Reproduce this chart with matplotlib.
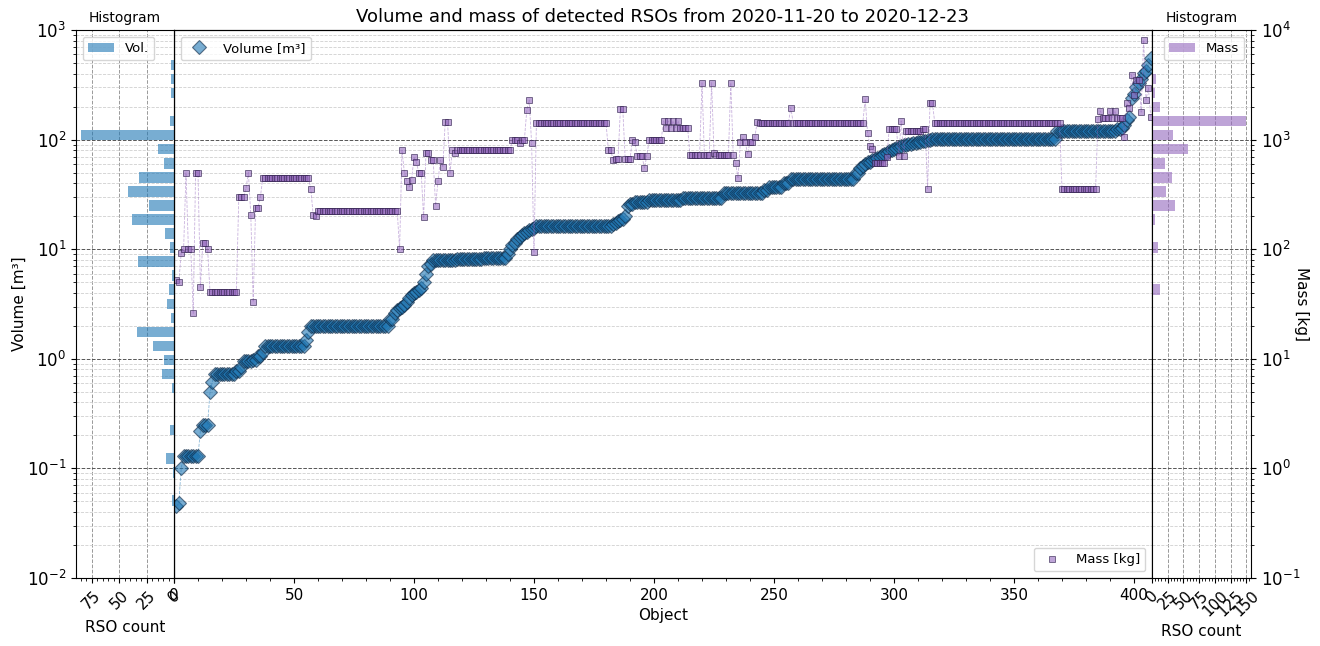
import numpy as np
import matplotlib.pyplot as plt
from matplotlib.ticker import MultipleLocator, AutoMinorLocator

# Volume of each object [m^3], sorted ascending: level / how many objects share it
vol_level = [0.045, 0.048, 0.10, 0.13, 0.22, 0.25, 0.50, 0.62, 0.72, 0.78, 0.85, 0.95, 0.98,
             1.05, 1.15, 1.3, 1.5, 1.75, 2.0, 2.3, 2.6, 2.8, 2.9, 3.0, 3.1, 3.3, 3.6, 3.8,
             4.0, 4.1, 4.2, 4.4, 5.0, 6.0, 7.0, 7.4, 7.9, 8.1, 8.3, 9.0, 10, 11, 11.5,
             12.5, 13, 13.5, 14, 14.5, 15, 15.3, 15.5, 16.2, 17, 17.5, 18, 18.5, 19, 20,
             25, 26, 27, 28, 29.5, 32.5, 35, 37, 40, 43.7, 50, 55, 58, 60, 62, 63, 65, 66,
             68, 70, 72, 74, 76, 78, 80, 82, 84, 86, 88, 89, 90, 91, 92, 93, 94, 96, 98, 99,
             101, 120, 125, 128, 135, 150, 160, 240, 260, 300, 330, 360, 405, 420, 480, 550]
vol_count = [1, 1, 1, 7, 1, 3, 1, 1, 9, 2, 1, 4, 2,
             2, 1, 17, 1, 1, 33, 2, 1, 1, 1, 1, 1, 1, 1, 1,
             1, 1, 1, 1, 1, 1, 1, 1, 10, 11, 10, 1, 1, 1, 1,
             1, 1, 1, 1, 1, 1, 1, 1, 32, 1, 1, 1, 1, 1, 1,
             1, 2, 6, 14, 17, 17, 2, 6, 3, 27, 2, 1, 1, 1, 1, 1, 1, 1,
             1, 1, 1, 1, 1, 1, 1, 1, 1, 1, 1, 1, 1, 1, 1, 1, 1, 2, 2, 2,
             52, 25, 2, 1, 1, 1, 1, 1, 1, 1, 1, 1, 1, 1, 1, 1]

# Mass of the same objects [kg], in the same order
mass_level = [52, 50, 92, 100, 500, 100, 26, 500, 45, 115, 100,
              41,
              300, 360, 500, 205, 33, 240, 300,
              450,
              355, 205, 200,
              225,
              100, 800, 500, 420, 370, 430, 690, 620, 500, 195, 750, 650, 250, 420, 650, 560,
              1450, 500, 800, 750,
              800,
              1000, 930, 1000, 1860, 2300, 930, 94,
              1420,
              800, 650, 660, 1900, 660, 1000, 950, 710, 550, 710, 1000,
              1480, 1280, 1480, 1280, 1480, 1280, 1480, 1280,
              720, 3300, 720, 3300, 760, 720, 3300, 720,
              610, 450, 950, 1050, 950, 740, 950, 1050, 1450,
              1420, 1950, 1420,
              2350, 1150, 870, 820, 610, 690, 1250, 710, 1480, 710, 1200, 1250, 355, 2150,
              1420,
              355,
              1540, 1830, 1580, 1830, 1580, 1830, 1580,
              1580, 1050, 2150, 1960, 3900, 2550, 3500, 1780, 8100, 2300, 2950, 1600]
mass_count = [1, 1, 1, 1, 1, 2, 1, 2, 1, 2, 1,
              12,
              3, 1, 1, 1, 1, 2, 1,
              20,
              1, 1, 1,
              34,
              1, 1, 1, 1, 1, 1, 1, 1, 2, 1, 2, 2, 1, 1, 1, 1,
              2, 1, 1, 1,
              23,
              3, 1, 2, 1, 1, 1, 1,
              30,
              2, 1, 2, 2, 3, 1, 1, 3, 1, 1, 6,
              1, 1, 1, 1, 1, 1, 1, 4,
              5, 1, 3, 1, 1, 6, 1, 1,
              1, 1, 1, 1, 1, 1, 2, 1, 1,
              13, 1, 30,
              1, 1, 1, 1, 5, 1, 4, 1, 1, 1, 7, 2, 1, 2,
              53,
              15,
              1, 1, 3, 1, 1, 1, 2,
              1, 1, 1, 1, 1, 1, 2, 1, 1, 1, 1, 1]

volume = np.repeat(vol_level, vol_count)
mass = np.repeat(mass_level, mass_count)
obj = np.arange(1, len(volume) + 1)

vol_bins = np.logspace(-2, 3, 40)
mass_bins = np.logspace(-1, 4, 40)

vcol = '#1f77b4'
mcol = '#9467bd'


def style_grid(a, vertical=False):
    a.grid(True, which='major', axis='y', linestyle='--', color='#555555', linewidth=0.7)
    a.grid(True, which='minor', axis='y', linestyle='--', color='#d0d0d0', linewidth=0.6)
    if vertical:
        a.grid(True, which='major', axis='x', linestyle='--', color='#999999', linewidth=0.7)
    a.set_axisbelow(True)


fig = plt.figure(figsize=(13.2, 6.46), dpi=100)
W, H = 1320.0, 646.0
bottom = 1 - 578 / H
height = (578 - 30) / H

ax = fig.add_axes([174 / W, bottom, (1152 - 174) / W, height])
ax_lh = fig.add_axes([76 / W, bottom, (174 - 76) / W, height], sharey=ax)
ax_m = ax.twinx()
ax_rh = fig.add_axes([1152 / W, bottom, (1251 - 1152) / W, height], sharey=ax_m)

# main panel: volume on the left scale, mass on the twin scale
ax.set_yscale('log')
ax.set_ylim(1e-2, 1e3)
ax.plot(obj, volume, '--', color=vcol, lw=0.6, alpha=0.5)
ax.plot(obj, volume, 'D', ms=7, mfc=vcol, mec='#0b2540', mew=0.8, alpha=0.6,
        linestyle='none', label='Volume [m³]')
ax.set_xlim(0, len(obj) + 0.5)
ax.xaxis.set_major_locator(MultipleLocator(50))
ax.xaxis.set_minor_locator(AutoMinorLocator(5))
ax.tick_params(axis='y', which='both', left=False, labelleft=False)
ax.tick_params(axis='x', labelsize=11)
ax.set_xlabel('Object', fontsize=11)
ax.set_title('Volume and mass of detected RSOs from 2020-11-20 to 2020-12-23', fontsize=13)
style_grid(ax)
ax.legend(loc='upper left', fontsize=9.5)

ax_m.set_yscale('log')
ax_m.set_ylim(1e-1, 1e4)
ax_m.plot(obj, mass, '--', color=mcol, lw=0.6, alpha=0.5)
ax_m.plot(obj, mass, 's', ms=4.5, mfc=mcol, mec='#2d1e4a', mew=0.7, alpha=0.6,
          linestyle='none', label='Mass [kg]')
ax_m.tick_params(axis='y', which='both', right=False, labelright=False)
ax_m.legend(loc='lower right', fontsize=9.5)

# left histogram: volume
ax_lh.hist(volume, bins=vol_bins, orientation='horizontal', color=vcol, alpha=0.6,
           rwidth=0.75, label='Vol.')
ax_lh.invert_xaxis()
ax_lh.xaxis.set_major_locator(MultipleLocator(25))
ax_lh.xaxis.set_minor_locator(AutoMinorLocator(5))
ax_lh.tick_params(axis='x', labelsize=11, labelrotation=45)
ax_lh.tick_params(axis='y', labelsize=12)
ax_lh.set_xlabel('RSO count', fontsize=11, labelpad=6)
ax_lh.set_ylabel('Volume [m³]', fontsize=11)
ax_lh.yaxis.set_label_coords(-0.50, 0.5)
ax_lh.set_title('Histogram', fontsize=10)
style_grid(ax_lh, vertical=True)
ax_lh.legend(loc='upper left', fontsize=9.5)

# right histogram: mass
ax_rh.hist(mass, bins=mass_bins, orientation='horizontal', color=mcol, alpha=0.6,
           rwidth=0.75, label='Mass')
ax_rh.xaxis.set_major_locator(MultipleLocator(25))
ax_rh.xaxis.set_minor_locator(AutoMinorLocator(5))
ax_rh.yaxis.tick_right()
ax_rh.yaxis.set_label_position('right')
ax_rh.tick_params(axis='x', labelsize=11, labelrotation=45)
ax_rh.tick_params(axis='y', labelsize=12)
ax_rh.set_xlabel('RSO count', fontsize=11)
ax_rh.set_ylabel('Mass [kg]', fontsize=11, rotation=270, labelpad=6)
ax_rh.set_title('Histogram', fontsize=10)
style_grid(ax_rh, vertical=True)
ax_rh.legend(loc='upper right', fontsize=9.5)

fig.savefig('out.png', dpi=100)
